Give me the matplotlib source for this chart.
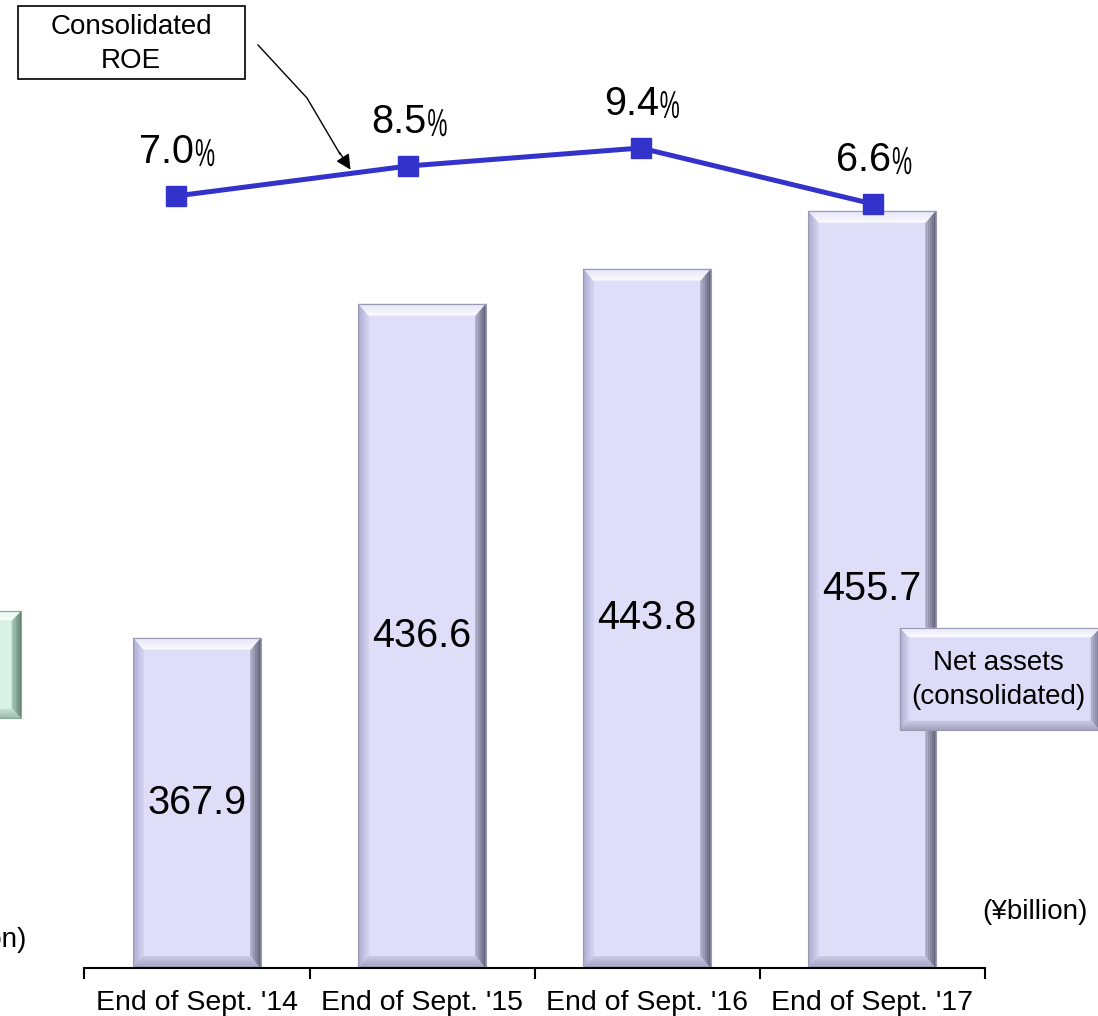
import matplotlib
matplotlib.use("Agg")
import matplotlib.pyplot as plt
import numpy as np
from matplotlib.patches import Polygon, Rectangle, PathPatch
from matplotlib.textpath import TextPath
from matplotlib.font_manager import FontProperties
from matplotlib import transforms, colors as mcolors

plt.rcParams['font.family'] = ['Liberation Sans', 'DejaVu Sans']

# ---------------- DATA ----------------
periods = ["End of Sept. '14", "End of Sept. '15", "End of Sept. '16", "End of Sept. '17"]
net_assets = [367.9, 436.6, 443.8, 455.7]   # ¥billion
roe = [7.0, 8.5, 9.4, 6.6]                   # %
# --------------------------------------

W, H = 1098, 1016
fig = plt.figure(figsize=(W / 100, H / 100), dpi=100)

LINE_COL = "#3333cc"


def mix(c1, c2, f):
    a = np.array(mcolors.to_rgb(c1))
    b = np.array(mcolors.to_rgb(c2))
    return tuple(a + (b - a) * f)


def bevel(ax, x0, y0, w, h, tx, ty, face, sides, edge, z=2, steps=5):
    """bevelled rectangle; sides = dict side -> (outer colour, inner colour)"""
    x1, y1 = x0 + w, y0 + h
    ax.add_patch(Rectangle((x0, y0), w, h, fc=face, ec="none", zorder=z))
    for k in range(steps):
        a, b = k / steps, (k + 1) / steps
        f = (k + 0.5) / steps
        quads = {
            "top": [(x0 + tx * a, y1 - ty * a), (x1 - tx * a, y1 - ty * a),
                    (x1 - tx * b, y1 - ty * b), (x0 + tx * b, y1 - ty * b)],
            "bottom": [(x0 + tx * a, y0 + ty * a), (x1 - tx * a, y0 + ty * a),
                       (x1 - tx * b, y0 + ty * b), (x0 + tx * b, y0 + ty * b)],
            "left": [(x0 + tx * a, y0 + ty * a), (x0 + tx * a, y1 - ty * a),
                     (x0 + tx * b, y1 - ty * b), (x0 + tx * b, y0 + ty * b)],
            "right": [(x1 - tx * a, y0 + ty * a), (x1 - tx * a, y1 - ty * a),
                      (x1 - tx * b, y1 - ty * b), (x1 - tx * b, y0 + ty * b)],
        }
        for side in ["left", "right", "bottom", "top"]:
            c = mix(sides[side][0], sides[side][1], f)
            ax.add_patch(Polygon(quads[side], closed=True, fc=c, ec=c, lw=0.3, zorder=z))
    ax.add_patch(Rectangle((x0, y0), w, h, fc="none", ec=edge, lw=0.8, zorder=z))


bar_sides = {"top": ("#e4e4f8", "#fbfbff"), "left": ("#a8a8cc", "#d4d4f2"),
             "right": ("#5c5c70", "#b0b0cc"), "bottom": ("#9c9cbc", "#cacae6")}

# ---- bars (net assets) ----
ax = fig.add_axes([0, 48 / H, 1, 972.6 / H])
ax.set_xlim(-197 / 225, -197 / 225 + W / 225)
ax.set_ylim(300, 500)
xs = list(range(len(periods)))
bw = 0.565
bars = ax.bar(xs, [v - 300 for v in net_assets], bottom=300, width=bw,
              color="none", edgecolor="none")
for b, v in zip(bars, net_assets):
    bevel(ax, b.get_x(), 300, b.get_width(), v - 300, 0.045, 2.4,
          "#dedef9", bar_sides, "#9a9ab2")
    ax.text(b.get_x() + b.get_width() / 2, (300 + v) / 2, f"{v:.1f}",
            ha="center", va="center", fontsize=28.5, zorder=5)

for s in ["top", "left", "right"]:
    ax.spines[s].set_visible(False)
ax.spines["bottom"].set_bounds(-0.5, 3.5)
ax.spines["bottom"].set_linewidth(1.5)
ax.spines["bottom"].set_zorder(6)
ax.set_yticks([])
ax.set_xticks([-0.5, 0.5, 1.5, 2.5, 3.5])
ax.set_xticklabels([])
ax.tick_params(axis="x", which="major", length=8, width=1.5, direction="out")
ax.set_xticks(xs, minor=True)
ax.set_xticklabels(periods, minor=True)
ax.tick_params(axis="x", which="minor", length=0, pad=16, labelsize=20.5)
ax.patch.set_alpha(0)

# ---- line (ROE) ----
ax2 = fig.add_axes([0, 0, 1, 1])
ax2.set_xlim(-176 / 232.33, -176 / 232.33 + W / 232.33)
ax2.set_ylim(-(H - 336) / 20, 336 / 20)
ax2.axis("off")
ax2.patch.set_alpha(0)
ax2.plot(range(len(roe)), roe, color=LINE_COL, lw=3.6, marker="s", ms=15,
         mfc=LINE_COL, mec=LINE_COL, zorder=4)
pct_path = TextPath((0, 0), "%", size=39, prop=FontProperties(family="Liberation Sans"))
for i, r in enumerate(roe):
    ax2.annotate(f"{r:.1f}", (i, r), xytext=(18, 44), textcoords="offset pixels",
                 ha="right", va="center", fontsize=28.5)
    # narrow, tall percent sign as in the original
    tr = (transforms.Affine2D().scale(0.58, 1.0).translate(19, 30)
          + transforms.ScaledTranslation(i, r, ax2.transData))
    ax2.add_patch(PathPatch(pct_path, transform=tr, fc="black", ec="none", zorder=5))

# ---- decorations in pixel coords ----
ov = fig.add_axes([0, 0, 1, 1])
ov.set_xlim(0, W)
ov.set_ylim(H, 0)
ov.axis("off")
ov.patch.set_alpha(0)

# ROE callout
ov.add_patch(Rectangle((18, 6), 227, 73, fc="white", ec="black", lw=1.2, zorder=3))
ov.text(131, 44, "Consolidated\nROE", ha="center", va="center", fontsize=20,
        linespacing=1.4, zorder=4)
ov.plot([258, 307, 340], [45, 98, 154], color="black", lw=1, zorder=4)
ov.annotate("", xy=(352, 172), xytext=(338, 150),
            arrowprops=dict(arrowstyle="-|>,head_length=0.9,head_width=0.45",
                            color="black", lw=1), zorder=4)

# net assets legend box (y flipped: give negative height)
box_sides = {"top": ("#e8e8f8", "#fbfbff"), "left": ("#a8a8cc", "#d4d4f2"),
             "right": ("#6c6c84", "#b8b8d4"), "bottom": ("#9c9cbc", "#cacae6")}
bevel(ov, 900, 730, 200, -102, 9, -9, "#dcdcf8", box_sides, "#9a9ab2", z=3)
ov.text(998, 680, "Net assets\n(consolidated)", ha="center", va="center",
        fontsize=20, linespacing=1.45, zorder=5)

# cut-off green box on the left
green_sides = {"top": ("#e6f6ee", "#f8fffb"), "left": ("#a8ccb8", "#d0ecde"),
               "right": ("#5e7e70", "#a8c8b8"), "bottom": ("#98b8a8", "#c4e0d2")}
bevel(ov, -80, 718, 101, -107, 9, -9, "#d8f2e6", green_sides, "#8aa89a", z=3)

ov.text(1035, 912, "(¥billion)", ha="center", va="center", fontsize=20)
ov.text(27, 940, "(¥billion)", ha="right", va="center", fontsize=20)

fig.savefig("out.png", dpi=100)
